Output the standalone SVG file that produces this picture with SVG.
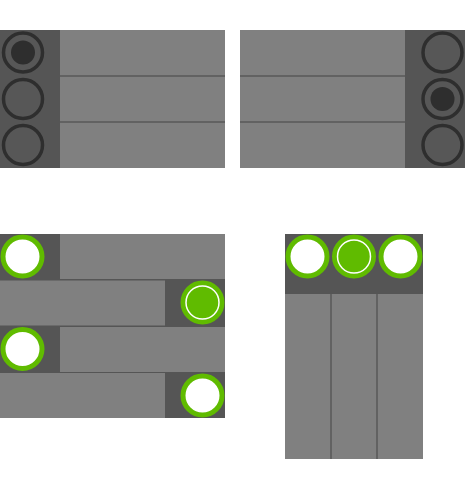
<svg xmlns="http://www.w3.org/2000/svg" width="475" height="483" viewBox="0 0 475 483">
<style>
.side{fill:#555555}
.row{fill:#808080}
.div{stroke:#585858;stroke-width:1.5}
.ring{fill:#575757;stroke:#2e2e2e;stroke-width:3.5}
.dot{fill:#2e2e2e}
.gring{fill:#ffffff;stroke:#60bb00;stroke-width:5}
.gsel{fill:#60bb00;stroke:#60bb00;stroke-width:5}
.wring{fill:none;stroke:#ffffff;stroke-width:1.5}
</style>
<rect width="475" height="483" fill="#ffffff"/>
<g id="panel1">
<rect class="row" x="60" y="30" width="165" height="138"/>
<rect class="side" x="0" y="30" width="60" height="138"/>
<line class="div" x1="60" y1="76" x2="225" y2="76"/>
<line class="div" x1="60" y1="122" x2="225" y2="122"/>
<circle class="ring" cx="23" cy="52.5" r="19.5"/>
<circle class="dot" cx="23" cy="52.5" r="12"/>
<circle class="ring" cx="23" cy="99" r="19.5"/>
<circle class="ring" cx="23" cy="145" r="19.5"/>
</g>
<g id="panel2">
<rect class="row" x="240" y="30" width="165" height="138"/>
<rect class="side" x="405" y="30" width="60" height="138"/>
<line class="div" x1="240" y1="76" x2="405" y2="76"/>
<line class="div" x1="240" y1="122" x2="405" y2="122"/>
<circle class="ring" cx="442.5" cy="52.5" r="19.5"/>
<circle class="ring" cx="442.5" cy="99" r="19.5"/>
<circle class="dot" cx="442.5" cy="99" r="12"/>
<circle class="ring" cx="442.5" cy="145" r="19.5"/>
</g>
<g id="panel3">
<rect class="side" x="0" y="234" width="225" height="184"/>
<rect class="row" x="60" y="234" width="165" height="45"/>
<rect class="row" x="0" y="280.5" width="165" height="45"/>
<rect class="row" x="60" y="327" width="165" height="45"/>
<rect class="row" x="0" y="373" width="165" height="45"/>
<circle class="gring" cx="22.5" cy="256.5" r="19.5"/>
<circle class="gsel" cx="202.5" cy="302.5" r="19.5"/>
<circle class="wring" cx="202.5" cy="302.5" r="16.5"/>
<circle class="gring" cx="22.5" cy="349" r="19.5"/>
<circle class="gring" cx="202.5" cy="395.5" r="19.5"/>
</g>
<g id="panel4">
<rect class="side" x="285" y="234" width="138" height="60"/>
<rect class="row" x="285" y="294" width="138" height="165"/>
<line class="div" x1="331" y1="294" x2="331" y2="459"/>
<line class="div" x1="377" y1="294" x2="377" y2="459"/>
<circle class="gring" cx="307.5" cy="256.5" r="19.5"/>
<circle class="gsel" cx="354" cy="256.5" r="19.5"/>
<circle class="wring" cx="354" cy="256.5" r="16.5"/>
<circle class="gring" cx="400.5" cy="256.5" r="19.5"/>
</g>
</svg>
